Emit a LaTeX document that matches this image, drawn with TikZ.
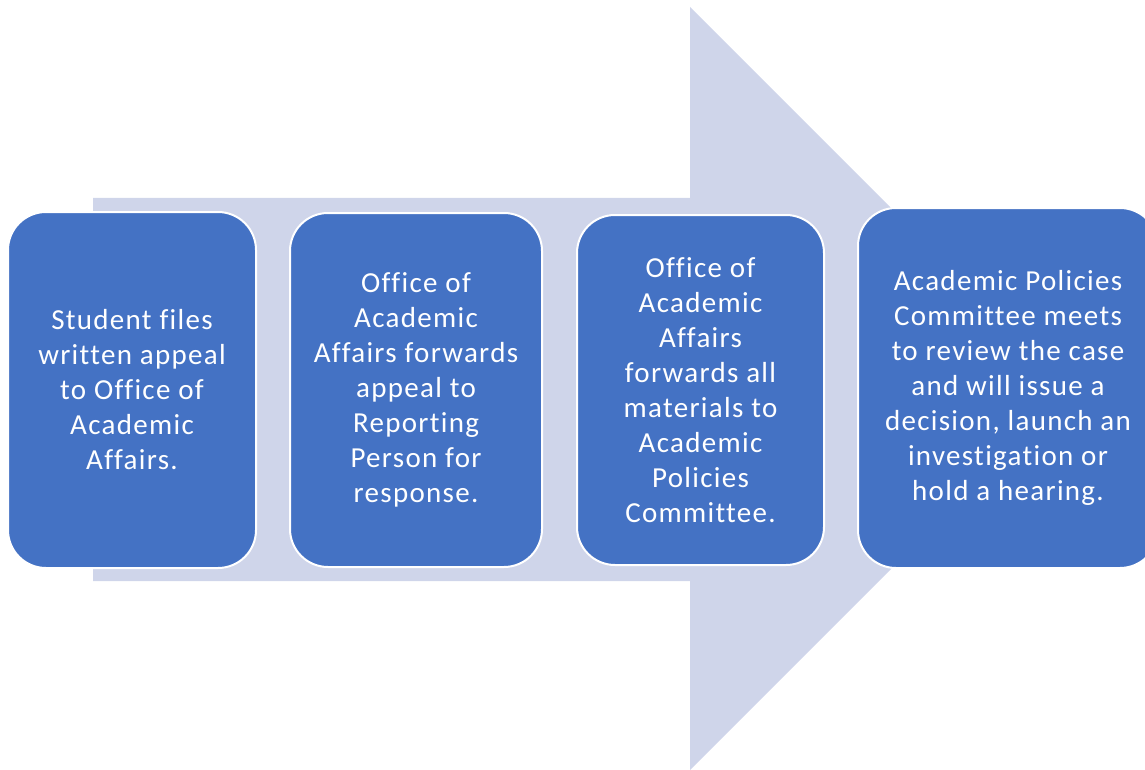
\documentclass[tikz,border=0pt]{standalone}
\usepackage{fontspec}
\setmainfont[Ligatures={NoCommon},LetterSpace=4.5]{Carlito}
\definecolor{arrowfill}{HTML}{CFD5EA}
\definecolor{boxfill}{HTML}{4472C4}
\begin{document}
\begin{tikzpicture}[x=1pt,y=-1pt,
  stepbox/.style={draw=white,line width=2pt,fill=boxfill,rounded corners=38pt,
    text=white,align=center,inner sep=0pt,
    font=\fontsize{29}{35}\selectfont}]
\useasboundingbox (0,0) rectangle (1145,770);
\clip (0,0) rectangle (1145,770);
\fill[arrowfill] (93,198) -- (690,198) -- (690,7) -- (1071.5,388.5) -- (690,770) -- (690,581) -- (93,581) -- cycle;
\node[stepbox,minimum width=248pt,minimum height=356pt] (b1) at (132,390)
  {Student files\\written appeal\\to Office of\\Academic\\Affairs.};
\node[stepbox,minimum width=252pt,minimum height=354pt] (b2) at (416,390)
  {Office of\\Academic\\Affairs forwards\\appeal to\\Reporting\\Person for\\response.};
\node[stepbox,minimum width=247pt,minimum height=350pt] (b3) at (700.5,390)
  {Office of\\Academic\\Affairs\\forwards all\\materials to\\Academic\\Policies\\Committee.};
\node[stepbox,minimum width=300pt,minimum height=360pt] (b4) at (1008,388)
  {Academic Policies\\Committee meets\\to review the case\\and will issue a\\decision, launch an\\investigation or\\hold a hearing.};
\end{tikzpicture}
\end{document}
